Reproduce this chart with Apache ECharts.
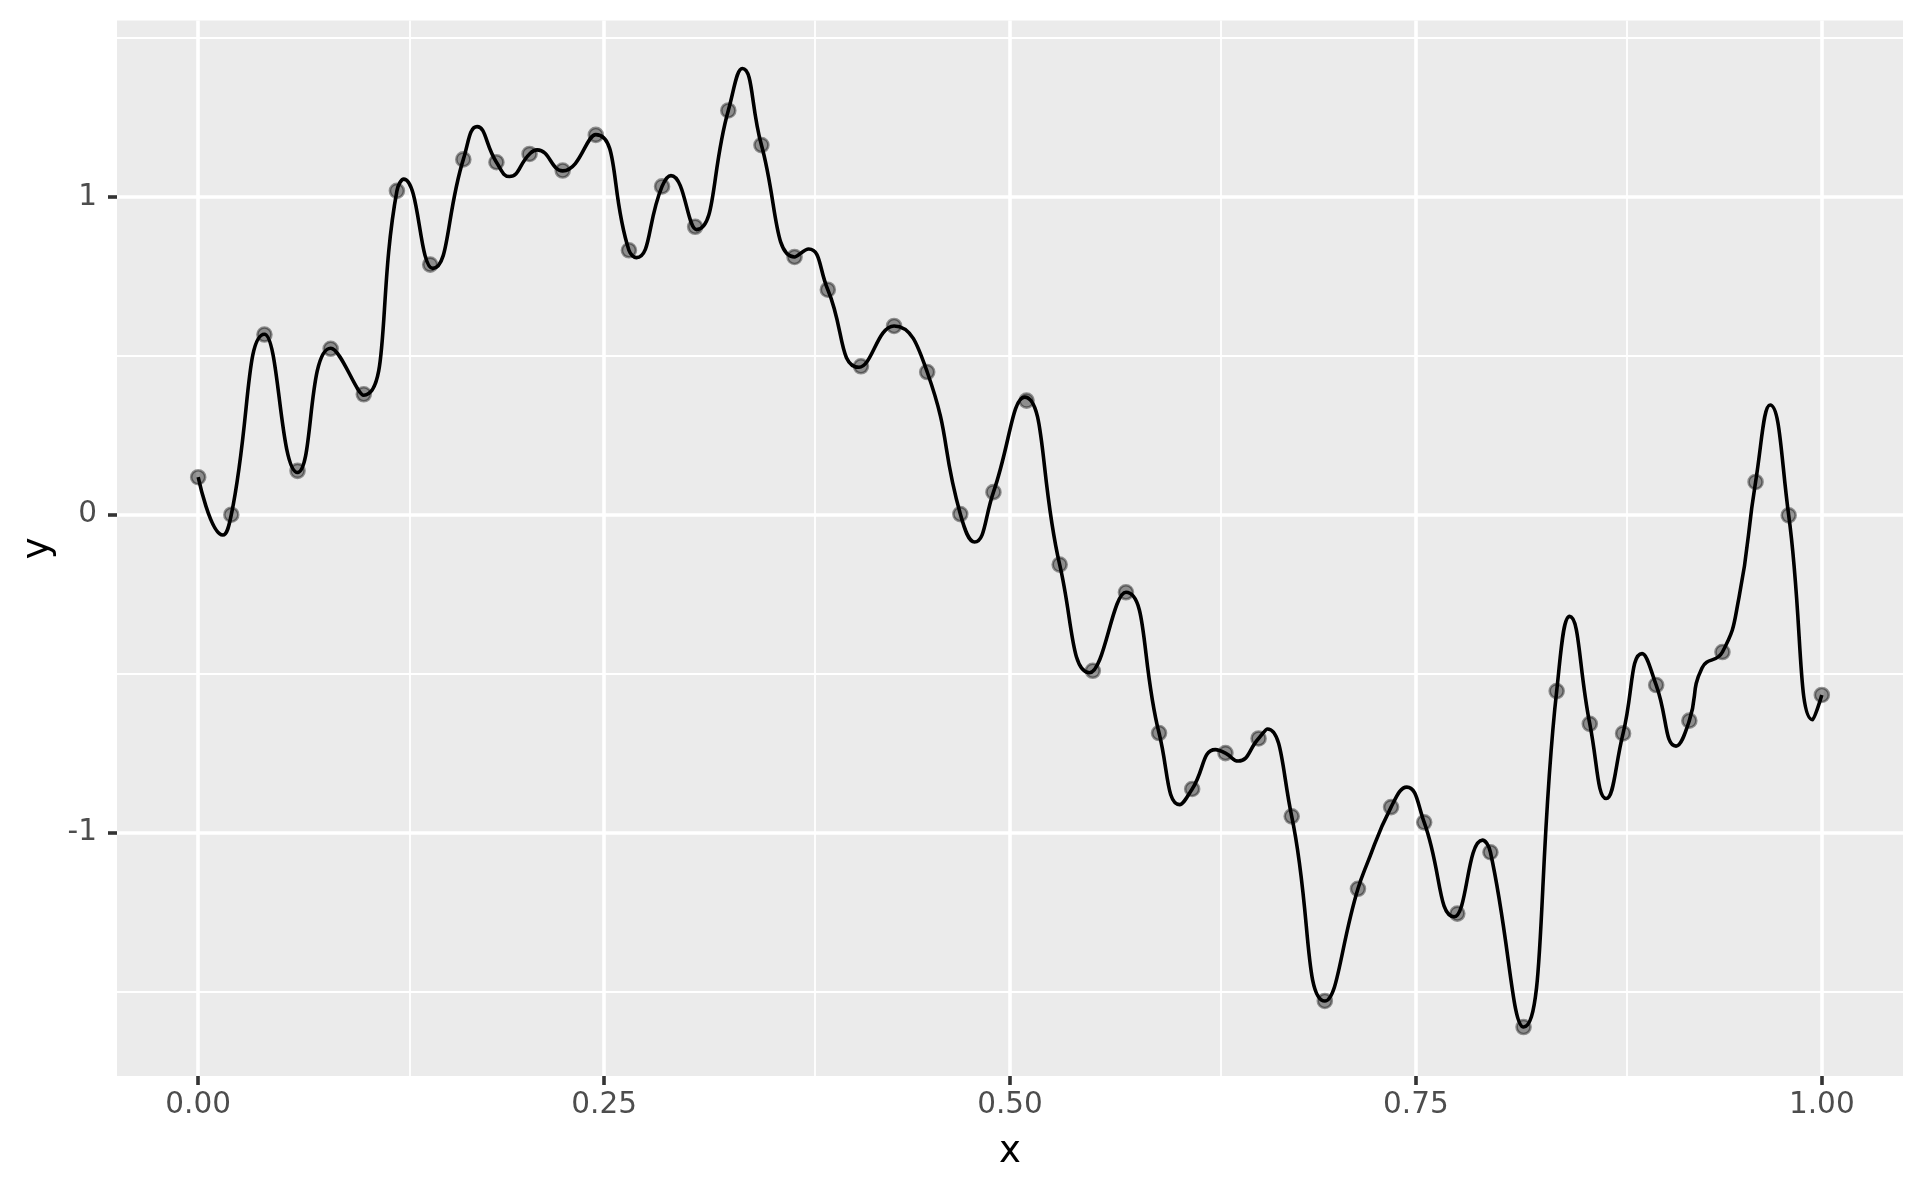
<!DOCTYPE html>
<html>
<head>
<meta charset="utf-8">
<script src="https://cdn.jsdelivr.net/npm/echarts@6/dist/echarts.min.js"></script>
<style>
  html, body { margin: 0; padding: 0; background: #ffffff; }
  #chart { width: 1924px; height: 1190px; }
</style>
</head>
<body>
<div id="chart"></div>
<script>
// Observed points (x, y)
const pointX = [0.0000, 0.0204, 0.0408, 0.0612, 0.0816, 0.1020, 0.1224, 0.1429, 0.1633, 0.1837,
                0.2041, 0.2245, 0.2449, 0.2653, 0.2857, 0.3061, 0.3265, 0.3469, 0.3673, 0.3878,
                0.4082, 0.4286, 0.4490, 0.4694, 0.4898, 0.5102, 0.5306, 0.5510, 0.5714, 0.5918,
                0.6122, 0.6327, 0.6531, 0.6735, 0.6939, 0.7143, 0.7347, 0.7551, 0.7755, 0.7959,
                0.8163, 0.8367, 0.8571, 0.8776, 0.8980, 0.9184, 0.9388, 0.9592, 0.9796, 1.0000];
const pointY = [0.118, 0.000, 0.567, 0.138, 0.522, 0.379, 1.019, 0.787, 1.118, 1.109,
                1.135, 1.083, 1.195, 0.832, 1.033, 0.906, 1.272, 1.163, 0.811, 0.708,
                0.467, 0.594, 0.449, 0.002, 0.071, 0.359, -0.157, -0.491, -0.244, -0.687,
                -0.863, -0.750, -0.704, -0.949, -1.530, -1.177, -0.920, -0.968, -1.255, -1.062,
                -1.612, -0.555, -0.658, -0.688, -0.536, -0.648, -0.432, 0.103, -0.002, -0.567];

// Fitted curve at its nodes and turning points
const curveX = [0.0000, 0.0152, 0.0204, 0.0408, 0.0612, 0.0816, 0.1020, 0.1224, 0.1266, 0.1445,
                0.1633, 0.1718, 0.1837, 0.1917, 0.2041, 0.2087, 0.2245, 0.2449, 0.2653,
                0.2699, 0.2857, 0.2912, 0.3070, 0.3265, 0.3352, 0.3469, 0.3673, 0.3760,
                0.3878, 0.4070, 0.4286, 0.4490, 0.4694, 0.4782, 0.4898, 0.5090,
                0.5306, 0.5490, 0.5714, 0.5918, 0.6045, 0.6122, 0.6265, 0.6327, 0.6405,
                0.6531, 0.6586, 0.6735, 0.6939, 0.7143, 0.7191, 0.7347, 0.7444, 0.7551, 0.7735,
                0.7910, 0.7959, 0.8163, 0.8367, 0.8447, 0.8571, 0.8672, 0.8776, 0.8893,
                0.8980, 0.9102, 0.9184, 0.9262, 0.9388, 0.9490, 0.9592, 0.9682, 0.9796, 0.9943, 1.0000];
const curveY = [0.118, -0.064, 0.000, 0.568, 0.133, 0.524, 0.376, 1.019, 1.056, 0.775,
                1.118, 1.221, 1.109, 1.064, 1.135, 1.148, 1.082, 1.196, 0.832,
                0.809, 1.033, 1.067, 0.897, 1.272, 1.404, 1.163, 0.811, 0.836,
                0.708, 0.464, 0.594, 0.449, 0.002, -0.086, 0.071, 0.370,
                -0.157, -0.497, -0.244, -0.687, -0.912, -0.863, -0.739, -0.750, -0.775,
                -0.704, -0.674, -0.949, -1.530, -1.177, -1.109, -0.920, -0.857, -0.968, -1.265,
                -1.024, -1.062, -1.612, -0.555, -0.320, -0.658, -0.893, -0.688, -0.437,
                -0.536, -0.728, -0.648, -0.482, -0.432, -0.260, 0.103, 0.345, -0.002, -0.645, -0.567];

// Axis ticks and grid
const xTicks = [0, 0.25, 0.5, 0.75, 1];
const xTickLabels = ['0.00', '0.25', '0.50', '0.75', '1.00'];
const yTicks = [-1, 0, 1];
const yTickLabels = ['-1', '0', '1'];
const xMinorGrid = [0.125, 0.375, 0.625, 0.875];
const yMinorGrid = [-1.5, -0.5, 0.5, 1.5];
const xRange = [-0.05, 1.05];
const yRange = [-1.766, 1.555];

const pointData = pointX.map((x, i) => [x, pointY[i]]);
const curveData = curveX.map((x, i) => [x, curveY[i]]);

const majorW = 3.6, minorW = 1.8;
const gridLines = []
  .concat(xMinorGrid.map(v => ({ xAxis: v, lineStyle: { width: minorW } })))
  .concat(yMinorGrid.map(v => ({ yAxis: v, lineStyle: { width: minorW } })))
  .concat(xTicks.map(v => ({ xAxis: v, lineStyle: { width: majorW } })))
  .concat(yTicks.map(v => ({ yAxis: v, lineStyle: { width: majorW } })));

const chart = echarts.init(document.getElementById('chart'), null, { renderer: 'canvas' });
const font = 'DejaVu Sans';
chart.setOption({
  animation: false,
  backgroundColor: '#ffffff',
  textStyle: { fontFamily: font },
  grid: {
    left: 117, right: 21, top: 20.5, bottom: 114,
    show: true, backgroundColor: '#EBEBEB', borderWidth: 0
  },
  xAxis: {
    type: 'value', min: xRange[0], max: xRange[1],
    name: 'x', nameLocation: 'middle', nameGap: 58,
    nameTextStyle: { color: '#000000', fontSize: 37, fontFamily: font },
    axisLine: { show: false, onZero: false },
    axisTick: { show: true, customValues: xTicks, length: 9, lineStyle: { color: '#333333', width: 3.6 } },
    axisLabel: {
      customValues: xTicks, margin: 14, color: '#4D4D4D', fontSize: 29.5, fontFamily: font,
      formatter: v => { const i = xTicks.findIndex(t => Math.abs(t - v) < 1e-9); return i >= 0 ? xTickLabels[i] : ''; }
    },
    splitLine: { show: false }
  },
  yAxis: {
    type: 'value', min: yRange[0], max: yRange[1],
    name: 'y', nameLocation: 'middle', nameGap: 60,
    nameTextStyle: { color: '#000000', fontSize: 37, fontFamily: font },
    axisLine: { show: false, onZero: false },
    axisTick: { show: true, customValues: yTicks, length: 9, lineStyle: { color: '#333333', width: 3.6 } },
    axisLabel: {
      customValues: yTicks, margin: 20, color: '#4D4D4D', fontSize: 29.5, fontFamily: font,
      formatter: v => { const i = yTicks.findIndex(t => Math.abs(t - v) < 1e-9); return i >= 0 ? yTickLabels[i] : ''; }
    },
    splitLine: { show: false }
  },
  series: [
    {
      name: 'grid', type: 'line', data: [], z: 1, silent: true,
      markLine: {
        z: 1, silent: true, symbol: ['none', 'none'], label: { show: false },
        lineStyle: { color: '#ffffff', type: 'solid' },
        emphasis: { disabled: true },
        data: gridLines
      }
    },
    {
      name: 'points', type: 'scatter', data: pointData, z: 2,
      symbol: 'circle', symbolSize: 14,
      itemStyle: { color: 'rgba(0,0,0,0.5)', borderColor: 'rgba(0,0,0,0.5)', borderWidth: 2.6 }
    },
    {
      name: 'curve', type: 'line', data: curveData, z: 3,
      smooth: 0.5, symbol: 'none',
      lineStyle: { color: '#000000', width: 3.6 }
    }
  ]
});
</script>
</body>
</html>
